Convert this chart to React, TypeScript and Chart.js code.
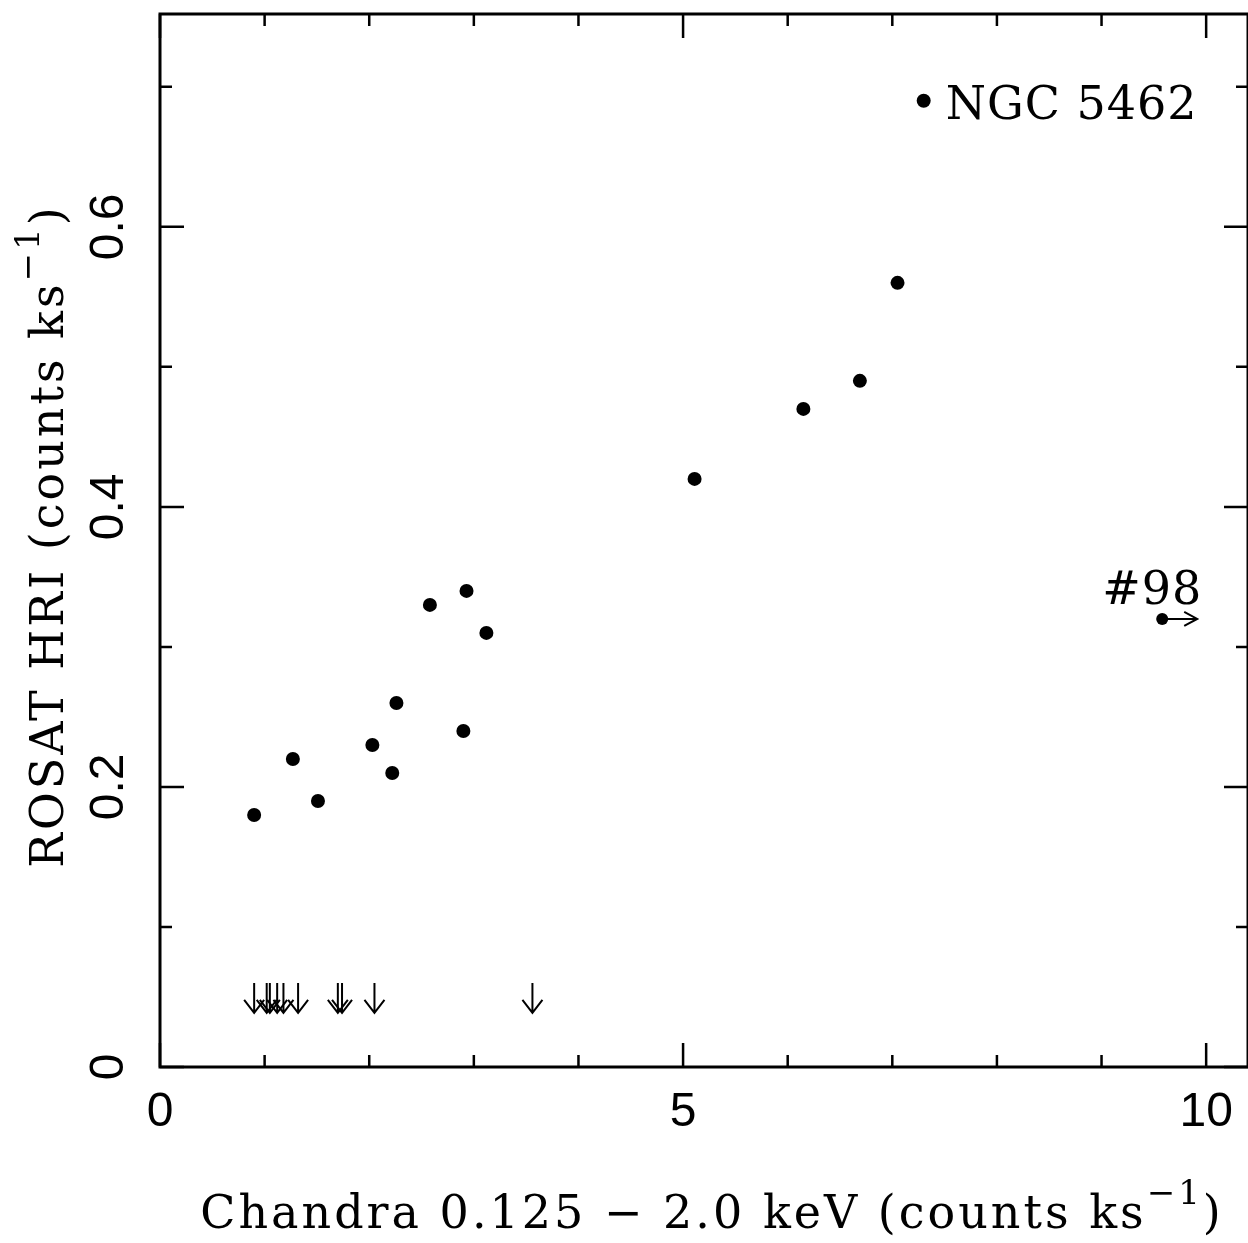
import { useEffect, useRef } from "react";
import { Chart, registerables } from "chart.js";

Chart.register(...registerables);

// Detected sources (Chandra rate, ROSAT HRI rate)
const detX = [0.9, 1.27, 1.51, 2.03, 2.22, 2.26, 2.58, 2.9, 2.93, 3.12, 5.11, 6.15, 6.69, 7.05, 7.3];
const detY = [0.18, 0.22, 0.19, 0.23, 0.21, 0.26, 0.33, 0.24, 0.34, 0.31, 0.42, 0.47, 0.49, 0.56, 0.69];

// ROSAT upper limits (arrows pointing down)
const ulX = [0.9, 1.02, 1.05, 1.12, 1.18, 1.32, 1.7, 1.74, 2.05, 3.56];
const ulY = [0.06, 0.06, 0.06, 0.06, 0.06, 0.06, 0.06, 0.06, 0.06, 0.06];

// Chandra lower limit (arrow pointing right)
const llX = [9.58];
const llY = [0.32];

const xMajor = [0, 5, 10];
const xMinor = [1, 2, 3, 4, 6, 7, 8, 9];
const yMajor = [0, 0.2, 0.4, 0.6];
const yMinor = [0.1, 0.3, 0.5, 0.7];
const xTickLabels = ["0", "5", "10"];
const yTickLabels = ["0", "0.2", "0.4", "0.6"];

const labelNGC = "NGC 5462";
const label98 = "#98";

const TICK_FONT = "48px 'Liberation Sans', Arial, sans-serif";
const TITLE_FONT = "46px 'DejaVu Serif', serif";
const SUP_FONT = "34px 'DejaVu Serif', serif";
const SPACING = "3px";

const framePlugin = {
  id: "frame",
  afterDatasetsDraw(chart: any) {
    const { ctx, chartArea, scales } = chart;
    const { left, right, top, bottom } = chartArea;
    const x = scales.x;
    const y = scales.y;
    ctx.save();
    ctx.strokeStyle = "#000";
    ctx.fillStyle = "#000";

    // upper-limit arrows
    ctx.lineWidth = 2;
    const ulMeta = chart.getDatasetMeta(1);
    ulMeta.data.forEach((el: any) => {
      const px = el.x;
      const py = el.y;
      const len = 30;
      ctx.beginPath();
      ctx.moveTo(px, py);
      ctx.lineTo(px, py + len);
      ctx.moveTo(px - 10, py + len - 13);
      ctx.lineTo(px, py + len);
      ctx.lineTo(px + 10, py + len - 13);
      ctx.stroke();
    });

    // lower-limit arrow (to the right)
    const llMeta = chart.getDatasetMeta(2);
    llMeta.data.forEach((el: any) => {
      const px = el.x;
      const py = el.y;
      const len = 35;
      ctx.beginPath();
      ctx.moveTo(px, py);
      ctx.lineTo(px + len, py);
      ctx.moveTo(px + len - 13, py - 7);
      ctx.lineTo(px + len, py);
      ctx.lineTo(px + len - 13, py + 7);
      ctx.stroke();
    });

    // frame
    ctx.lineWidth = 3;
    ctx.strokeRect(left, top, right - left, bottom - top);

    // ticks
    ctx.lineWidth = 2.5;
    const xt = (v: number, len: number) => {
      const px = x.getPixelForValue(v);
      ctx.beginPath();
      ctx.moveTo(px, bottom);
      ctx.lineTo(px, bottom - len);
      ctx.moveTo(px, top);
      ctx.lineTo(px, top + len);
      ctx.stroke();
    };
    const yt = (v: number, len: number) => {
      const py = y.getPixelForValue(v);
      ctx.beginPath();
      ctx.moveTo(left, py);
      ctx.lineTo(left + len, py);
      ctx.moveTo(right, py);
      ctx.lineTo(right - len, py);
      ctx.stroke();
    };
    xMajor.forEach((v) => xt(v, 24));
    xMinor.forEach((v) => xt(v, 12));
    yMajor.forEach((v) => yt(v, 24));
    yMinor.forEach((v) => yt(v, 12));

    // tick labels
    ctx.font = TICK_FONT;
    ctx.textAlign = "center";
    ctx.textBaseline = "middle";
    xMajor.forEach((v, i) => {
      ctx.fillText(xTickLabels[i], x.getPixelForValue(v), bottom + 46);
    });
    yMajor.forEach((v, i) => {
      const py = y.getPixelForValue(v);
      ctx.save();
      ctx.translate(left - 50, py);
      ctx.rotate(-Math.PI / 2);
      ctx.fillText(yTickLabels[i], 0, 0);
      ctx.restore();
    });

    // axis titles with superscript
    (ctx as any).letterSpacing = SPACING;
    const drawTitle = (main: string, sup: string, tail: string) => {
      ctx.font = TITLE_FONT;
      const w1 = ctx.measureText(main).width;
      ctx.font = SUP_FONT;
      const w2 = ctx.measureText(sup).width;
      ctx.font = TITLE_FONT;
      const w3 = ctx.measureText(tail).width;
      const total = w1 + w2 + w3;
      let cx = -total / 2;
      ctx.textAlign = "left";
      ctx.textBaseline = "alphabetic";
      ctx.font = TITLE_FONT;
      ctx.fillText(main, cx, 0);
      cx += w1;
      ctx.font = SUP_FONT;
      ctx.fillText(sup, cx, -24);
      cx += w2;
      ctx.font = TITLE_FONT;
      ctx.fillText(tail, cx, 0);
    };
    ctx.save();
    ctx.translate(712, 1228);
    drawTitle("Chandra 0.125 \u2212 2.0 keV (counts ks", "\u22121", ")");
    ctx.restore();

    ctx.save();
    ctx.translate(63, 536);
    ctx.rotate(-Math.PI / 2);
    drawTitle("ROSAT HRI (counts ks", "\u22121", ")");
    ctx.restore();

    // annotations
    (ctx as any).letterSpacing = "1px";
    ctx.font = TITLE_FONT;
    ctx.textBaseline = "alphabetic";
    ctx.textAlign = "left";
    const ngc = chart.getDatasetMeta(0).data[detX.length - 1];
    ctx.fillText(labelNGC, ngc.x + 22, ngc.y + 18);
    const p98 = llMeta.data[0];
    ctx.textAlign = "center";
    ctx.fillText(label98, p98.x - 10, p98.y - 15);

    ctx.restore();
  },
};

export default function App() {
  const ref = useRef<HTMLCanvasElement | null>(null);
  useEffect(() => {
    if (!ref.current) return;
    const chart = new Chart(ref.current, {
      type: "scatter",
      data: {
        datasets: [
          {
            data: detX.map((v, i) => ({ x: v, y: detY[i] })),
            backgroundColor: "#000",
            borderWidth: 0,
            pointRadius: 7,
          },
          {
            data: ulX.map((v, i) => ({ x: v, y: ulY[i] })),
            pointRadius: 0,
            backgroundColor: "#000",
          },
          {
            data: llX.map((v, i) => ({ x: v, y: llY[i] })),
            backgroundColor: "#000",
            borderWidth: 0,
            pointRadius: 6,
          },
        ],
      },
      options: {
        responsive: false,
        animation: false,
        events: [],
        layout: { autoPadding: false, padding: { left: 160, top: 14, right: 0, bottom: 176 } },
        plugins: { legend: { display: false }, tooltip: { enabled: false } },
        scales: {
          x: { type: "linear", min: 0, max: 10.4, display: false },
          y: { type: "linear", min: 0, max: 0.752, display: false },
        },
      },
      plugins: [framePlugin],
    });
    return () => chart.destroy();
  }, []);
  return (
    <div style={{ position: "absolute", left: 0, top: 0, width: 1248, height: 1243, background: "#fff" }}>
      <canvas ref={ref} width={1248} height={1243} style={{ width: 1248, height: 1243 }} />
    </div>
  );
}
